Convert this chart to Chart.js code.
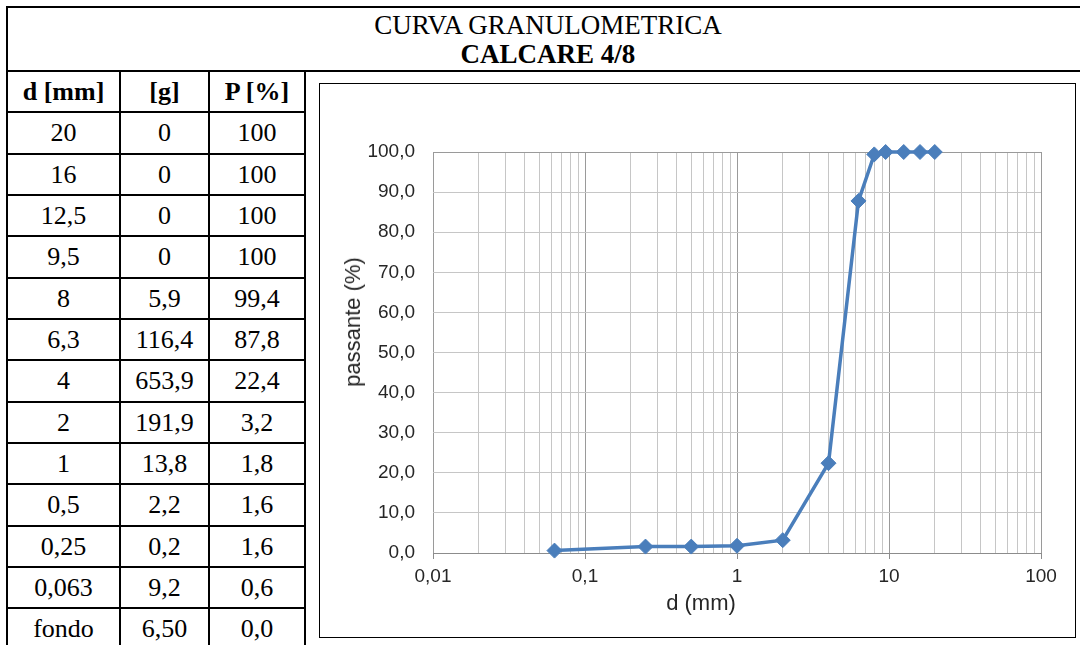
<!DOCTYPE html>
<html>
<head>
<meta charset="utf-8">
<script src="https://cdn.jsdelivr.net/npm/chart.js@4.4.1/dist/chart.umd.min.js"></script>
<style>
  html, body { margin: 0; padding: 0; background: #fff; }
  body { width: 1080px; height: 645px; overflow: hidden; position: relative; }
  .frame { position: absolute; left: 6px; top: 6px; width: 1082px; height: 660px; border: 2px solid #000; }
  .hline { position: absolute; height: 2px; background: #000; }
  .vline { position: absolute; width: 2px; background: #000; }
  .title { position: absolute; left: 8px; top: 11px; width: 1080px; text-align: center;
           font-family: "Liberation Serif", "Times New Roman", serif; font-size: 27px; line-height: 29px; color: #000; }
  .cell { position: absolute; text-align: center; font-family: "Liberation Serif", "Times New Roman", serif;
          font-size: 26px; color: #000; }
  .head { font-weight: bold; }
  .box { position: absolute; left: 319px; top: 83px; width: 755px; height: 553px; border: 1px solid #000; }
  .axt { position: absolute; font-family: "Liberation Sans", Arial, sans-serif; font-size: 22px; color: #262626; white-space: nowrap; }
</style>
</head>
<body>
<div class="frame"></div>
<div class="title">CURVA GRANULOMETRICA<br><b>CALCARE 4/8</b></div>
<div class="hline" style="left:7px; top:70px; width:1080px;"></div>
<div id="table"></div>
<div class="box"><canvas id="chart" width="755" height="553"></canvas></div>
<div class="axt" style="left:701px; top:603px; transform:translate(-50%,-50%);">d (mm)</div>
<div class="axt" style="left:353px; top:322px; transform:translate(-50%,-50%) rotate(-90deg);">passante (%)</div>

<script>
// table columns
const headers = ['d [mm]', '[g]', 'P [%]'];
const sieveLabels = ['20', '16', '12,5', '9,5', '8', '6,3', '4', '2', '1', '0,5', '0,25', '0,063', 'fondo'];
const retainedLabels = ['0', '0', '0', '0', '5,9', '116,4', '653,9', '191,9', '13,8', '2,2', '0,2', '9,2', '6,50'];
const passingLabels = ['100', '100', '100', '100', '99,4', '87,8', '22,4', '3,2', '1,8', '1,6', '1,6', '0,6', '0,0'];

// chart series
const diameters = [20, 16, 12.5, 9.5, 8, 6.3, 4, 2, 1, 0.5, 0.25, 0.063];
const passing = [100, 100, 100, 100, 99.4, 87.8, 22.4, 3.2, 1.8, 1.6, 1.6, 0.6];

// axis ticks
const decades = [0.01, 0.1, 1, 10, 100];
const minorSteps = [1, 2, 3, 4, 5, 6, 7, 8, 9];
const yTicks = [0, 10, 20, 30, 40, 50, 60, 70, 80, 90, 100];

// build the table on the left
const table = document.getElementById('table');
const colX = [7, 120, 209, 305];
const rowTop = 71, rowH = 41.33;
const columns = [sieveLabels, retainedLabels, passingLabels];

function addLine(cls, style) {
    const d = document.createElement('div');
    d.className = cls;
    Object.assign(d.style, style);
    table.appendChild(d);
}

function addCell(text, col, row, bold) {
    const d = document.createElement('div');
    d.className = bold ? 'cell head' : 'cell';
    d.textContent = text;
    d.style.left = colX[col] + 'px';
    d.style.width = (colX[col + 1] - colX[col]) + 'px';
    d.style.top = (rowTop + row * rowH + 6) + 'px';
    table.appendChild(d);
}

headers.forEach((h, c) => addCell(h, c, 0, true));
sieveLabels.forEach((_, r) => {
    columns.forEach((col, c) => addCell(col[r], c, r + 1, false));
});
for (let r = 1; r <= sieveLabels.length; r++) {
    addLine('hline', {left: '7px', top: Math.round(rowTop + r * rowH - 1) + 'px', width: '299px'});
}
colX.slice(1).forEach(x => addLine('vline', {left: (x - 1) + 'px', top: '71px', height: '580px'}));

const fmtComma = v => String(v).replace('.', ',');
const isDecade = v => decades.some(d => Math.abs(d - v) < 1e-9);

const xTickValues = [];
decades.forEach(d => {
    if (d === 100) { xTickValues.push(100); return; }
    minorSteps.forEach(m => xTickValues.push(+(d * m).toPrecision(6)));
});

const blue = '#4a7ebb';

const chartConfig = {
    type: 'line',
    data: {
        datasets: [{
            label: 'passante',
            data: diameters.map((d, i) => ({x: d, y: passing[i]})),
            borderColor: blue,
            backgroundColor: blue,
            borderWidth: 3.5,
            pointStyle: 'rectRot',
            pointRadius: 7.5,
            pointBorderWidth: 1,
            pointBackgroundColor: blue,
            pointBorderColor: blue,
            tension: 0,
            clip: false
        }]
    },
    options: {
        responsive: false,
        animation: false,
        devicePixelRatio: 1,
        layout: {padding: {left: 0, right: 34, top: 68, bottom: 0}},
        plugins: {legend: {display: false}, tooltip: {enabled: false}},
        scales: {
            x: {
                type: 'logarithmic',
                min: 0.01,
                max: 100,
                afterBuildTicks: scale => {
                    scale.ticks = xTickValues.map(v => ({value: v, major: isDecade(v)}));
                },
                afterFit: scale => { scale.height = 84; },
                grid: {
                    color: ctx => isDecade(ctx.tick.value) ? '#9a9a9a' : '#c6c6c6',
                    tickColor: ctx => isDecade(ctx.tick.value) ? '#8c8c8c' : 'rgba(0,0,0,0)',
                    tickLength: 6,
                    lineWidth: 1
                },
                border: {color: '#8c8c8c', width: 1},
                ticks: {
                    autoSkip: false,
                    maxRotation: 0,
                    padding: 6,
                    color: '#262626',
                    font: {family: 'Liberation Sans', size: 19},
                    callback: v => isDecade(v) ? fmtComma(v) : ''
                }
            },
            y: {
                type: 'linear',
                min: 0,
                max: 100,
                afterBuildTicks: scale => {
                    scale.ticks = yTicks.map(v => ({value: v}));
                },
                afterFit: scale => { scale.width = 113; },
                grid: {
                    color: ctx => ctx.tick.value === 100 ? '#9a9a9a' : '#c6c6c6',
                    drawTicks: false,
                    lineWidth: 1
                },
                border: {display: false},
                ticks: {
                    padding: 18,
                    color: '#262626',
                    font: {family: 'Liberation Sans', size: 19},
                    callback: v => v.toFixed(1).replace('.', ',')
                }
            }
        }
    }
};

new Chart(document.getElementById('chart'), chartConfig);
</script>
</body>
</html>
